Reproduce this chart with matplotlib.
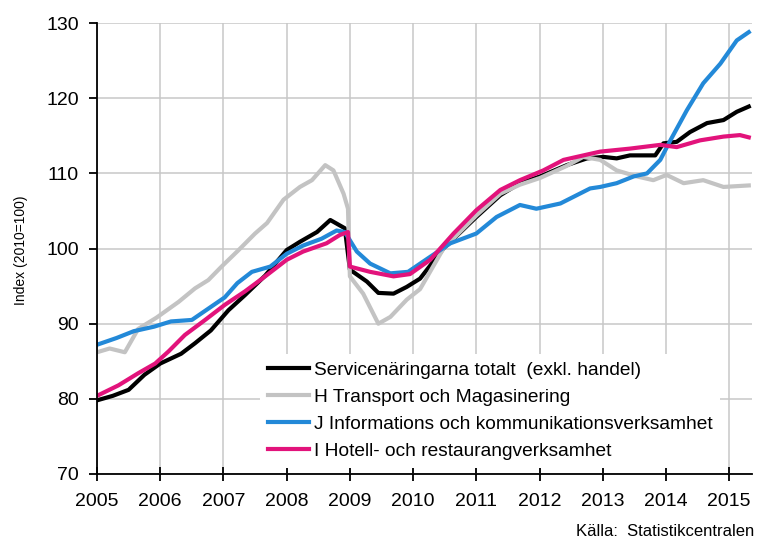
import matplotlib
matplotlib.use("Agg")
import matplotlib.pyplot as plt

plt.rcParams["font.family"] = ["Liberation Sans", "DejaVu Sans"]

# ── DATA (decimal years) ─────────────────────────────────────────────────────
total_x = [2005.0, 2005.25, 2005.5, 2005.75, 2006.0, 2006.33, 2006.55, 2006.8,
           2007.08, 2007.34, 2007.66, 2008.0, 2008.21, 2008.48, 2008.69, 2008.92,
           2009.0, 2009.27, 2009.45, 2009.69, 2009.9, 2010.11, 2010.48, 2011.0,
           2011.38, 2011.69, 2012.01, 2012.43, 2012.75, 2013.01, 2013.22, 2013.43,
           2013.83, 2013.96, 2014.17, 2014.38, 2014.65, 2014.91, 2015.12, 2015.31]
total_y = [79.8, 80.4, 81.2, 83.2, 84.7, 86.0, 87.4, 89.1,
           91.8, 93.8, 96.4, 99.8, 100.9, 102.2, 103.8, 102.7,
           97.2, 95.6, 94.1, 94.0, 94.9, 96.0, 100.0, 104.2,
           107.1, 108.7, 109.6, 111.1, 112.0, 112.2, 112.0, 112.4,
           112.4, 114.0, 114.2, 115.5, 116.7, 117.1, 118.2, 118.9]

transport_x = [2005.0, 2005.2, 2005.44, 2005.65, 2005.94, 2006.29, 2006.55, 2006.76,
               2006.97, 2007.24, 2007.5, 2007.69, 2007.95, 2008.21, 2008.4, 2008.61,
               2008.74, 2008.9, 2008.97, 2009.0, 2009.21, 2009.45, 2009.64, 2009.9,
               2010.11, 2010.48, 2011.0, 2011.38, 2011.69, 2012.01, 2012.43, 2012.69,
               2012.96, 2013.22, 2013.54, 2013.8, 2014.01, 2014.28, 2014.59, 2014.91,
               2015.31]
transport_y = [86.2, 86.7, 86.2, 89.3, 90.8, 92.9, 94.7, 95.8,
               97.6, 99.8, 102.0, 103.4, 106.5, 108.2, 109.1, 111.1,
               110.4, 107.3, 105.3, 96.3, 94.0, 90.0, 90.9, 93.2,
               94.6, 100.0, 104.4, 107.3, 108.5, 109.4, 111.0, 112.2,
               111.8, 110.4, 109.6, 109.1, 109.8, 108.7, 109.1, 108.2,
               108.4]

info_x = [2005.0, 2005.31, 2005.58, 2005.9, 2006.17, 2006.5, 2006.76, 2007.02,
          2007.22, 2007.45, 2007.74, 2008.0, 2008.26, 2008.55, 2008.79, 2008.92,
          2009.11, 2009.32, 2009.64, 2009.92, 2010.27, 2010.59, 2011.0, 2011.32,
          2011.69, 2011.95, 2012.33, 2012.8, 2012.96, 2013.22, 2013.49, 2013.7,
          2013.91, 2014.07, 2014.33, 2014.59, 2014.86, 2015.12, 2015.31]
info_y = [87.2, 88.1, 89.0, 89.6, 90.3, 90.5, 92.0, 93.5,
          95.4, 96.9, 97.6, 99.3, 100.4, 101.3, 102.4, 102.2,
          99.6, 98.0, 96.7, 96.9, 98.9, 100.7, 102.0, 104.2,
          105.8, 105.3, 106.0, 108.0, 108.2, 108.7, 109.6, 110.0,
          111.8, 114.4, 118.4, 122.0, 124.6, 127.7, 128.8]

hotel_x = [2005.0, 2005.34, 2005.65, 2005.92, 2006.13, 2006.39, 2006.71, 2007.02,
           2007.34, 2007.66, 2008.0, 2008.26, 2008.63, 2008.84, 2008.97, 2009.0,
           2009.32, 2009.69, 2009.95, 2010.27, 2010.64, 2011.0, 2011.38, 2011.69,
           2012.06, 2012.38, 2012.8, 2012.96, 2013.43, 2013.91, 2014.17, 2014.54,
           2014.91, 2015.17, 2015.31]
hotel_y = [80.4, 81.8, 83.4, 84.7, 86.3, 88.5, 90.5, 92.5,
           94.3, 96.3, 98.5, 99.6, 100.7, 101.8, 102.2, 97.6,
           96.9, 96.3, 96.6, 98.5, 102.0, 105.1, 107.8, 109.1,
           110.4, 111.8, 112.6, 112.9, 113.3, 113.8, 113.5, 114.4,
           114.9, 115.1, 114.8]

labels = ["Servicenäringarna totalt  (exkl. handel)",
          "H Transport och Magasinering",
          "J Informations och kommunikationsverksamhet",
          "I Hotell- och restaurangverksamhet"]
years = list(range(2005, 2016))
y_ticks = [70, 80, 90, 100, 110, 120, 130]

# ── PLOT ─────────────────────────────────────────────────────────────────────
fig = plt.figure(figsize=(7.58, 5.38), dpi=100)
ax = fig.add_axes([0.128, 0.119, 0.864, 0.838])

series = [(total_x, total_y, "#000000"),
          (transport_x, transport_y, "#c3c3c3"),
          (info_x, info_y, "#2389d8"),
          (hotel_x, hotel_y, "#e2137b")]
for (xs, ys, col), lab in zip(series, labels):
    ax.plot(xs, ys, color=col, linewidth=3, label=lab, solid_joinstyle="round")

ax.set_xlim(2005, 2015.36)
ax.set_ylim(70, 130)
ax.set_xticks(years)
ax.set_yticks(y_ticks)
ax.grid(True, color="#c8c8c8", linewidth=1.1)
ax.set_axisbelow(True)
for side in ["top", "right"]:
    ax.spines[side].set_visible(False)
ax.spines["left"].set_linewidth(1.3)
ax.spines["bottom"].set_linewidth(1.3)
ax.tick_params(axis="x", direction="inout", length=10, width=1.3,
               labelsize=14, pad=8.5)
ax.tick_params(axis="y", direction="out", length=6, width=1.3,
               labelsize=14, pad=7)
ax.set_ylabel("Index (2010=100)", fontsize=10)
ax.yaxis.set_label_coords(-0.106, 0.497)

leg = ax.legend(loc="upper left", bbox_to_anchor=(0.249, 0.266),
                frameon=True, facecolor="white", edgecolor="none",
                framealpha=1, fancybox=False, fontsize=13.8,
                handlelength=2.15, handletextpad=0.25, labelspacing=0.5,
                borderpad=0.4, borderaxespad=0)

fig.text(0.995, 0.004, "Källa:  Statistikcentralen", ha="right", va="baseline",
         fontsize=12)

plt.savefig("out.png", dpi=100)
